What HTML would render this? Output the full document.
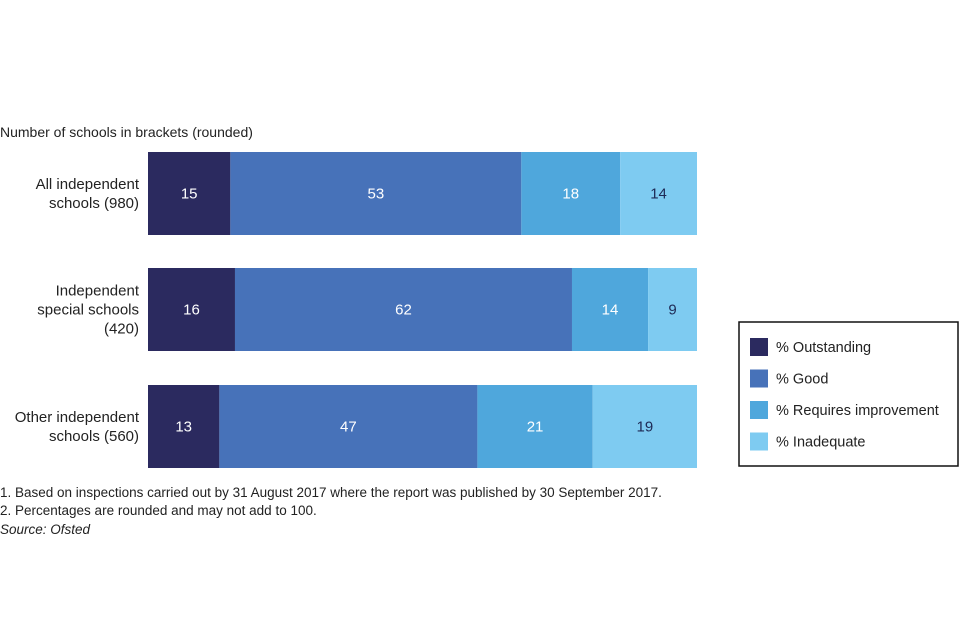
<!DOCTYPE html>
<html><head><meta charset="utf-8"><style>
body{margin:0;background:#fff;font-family:"Liberation Sans",sans-serif;color:#222}
#c{position:relative;width:960px;height:640px;overflow:hidden}
</style></head><body>
<div id="c">
<svg width="960" height="640" id="svg" style="font-family:'Liberation Sans',sans-serif">
<text x="0" y="137" font-size="14" fill="#222">Number of schools in brackets (rounded)</text>
<g id="bars"></g>
<g id="labels"></g>
<rect x="739" y="322" width="219" height="144" fill="#fff" stroke="#111" stroke-width="1.5"/>
<g id="legend"></g>
<text x="0" y="497" font-size="13.5" fill="#222">1. Based on inspections carried out by 31 August 2017 where the report was published by 30 September 2017.</text>
<text x="0" y="515" font-size="13.5" fill="#222">2. Percentages are rounded and may not add to 100.</text>
<text x="0" y="534" font-size="13.5" font-style="italic" fill="#222">Source: Ofsted</text>
</svg>
</div>
<script>
const categories=[["All independent","schools (980)"],["Independent","special schools","(420)"],["Other independent","schools (560)"]];
const outstanding=[15,16,13];
const good=[53,62,47];
const requiresImprovement=[18,14,21];
const inadequate=[14,9,19];
const seriesNames=["% Outstanding","% Good","% Requires improvement","% Inadequate"];
const colors=["#2b2a5f","#4772b9","#4fa7dc","#7ecbf1"];
const textColors=["#fff","#fff","#fff","#1e2a55"];
const NS="http://www.w3.org/2000/svg";
const series=[outstanding,good,requiresImprovement,inadequate];
const x0=148,x1=697,barTops=[152,268,385],barH=83;
const bars=document.getElementById('bars'),labels=document.getElementById('labels'),legend=document.getElementById('legend');
function xScale(v,total){return v/total*(x1-x0);}
categories.forEach((cat,i)=>{
  const total=series.reduce((s,a)=>s+a[i],0);
  let x=x0;
  series.forEach((arr,j)=>{
    const w=xScale(arr[i],total);
    const r=document.createElementNS(NS,'rect');
    r.setAttribute('x',x);r.setAttribute('y',barTops[i]);r.setAttribute('width',w);r.setAttribute('height',barH);r.setAttribute('fill',colors[j]);
    
    
    bars.appendChild(r);
    const t=document.createElementNS(NS,'text');
    t.setAttribute('x',x+w/2);t.setAttribute('y',barTops[i]+barH/2+5);t.setAttribute('text-anchor','middle');t.setAttribute('font-size','15');t.setAttribute('fill',textColors[j]);
    t.textContent=arr[i];
    
    
    bars.appendChild(t);
    x+=w;
  });
  const lt=document.createElementNS(NS,'text');
  lt.setAttribute('text-anchor','end');lt.setAttribute('font-size','15');lt.setAttribute('fill','#222');
  
  
  const n=cat.length,lh=19,start=barTops[i]+barH/2+5-(n-1)*lh/2;
  cat.forEach((line,k)=>{const ts=document.createElementNS(NS,'tspan');ts.setAttribute('x',139);ts.setAttribute('y',start+k*lh);ts.textContent=line;lt.appendChild(ts);});
  labels.appendChild(lt);
});
seriesNames.forEach((name,j)=>{
  const y=338+j*31.5;
  const r=document.createElementNS(NS,'rect');
  r.setAttribute('x',750);r.setAttribute('y',y);r.setAttribute('width',18);r.setAttribute('height',18);r.setAttribute('fill',colors[j]);
  
  
  legend.appendChild(r);
  const t=document.createElementNS(NS,'text');
  t.setAttribute('x',776);t.setAttribute('y',y+14);t.setAttribute('font-size','14.5');t.setAttribute('fill','#222');t.textContent=name;
  
  
  legend.appendChild(t);
});
</script>
</body></html>
